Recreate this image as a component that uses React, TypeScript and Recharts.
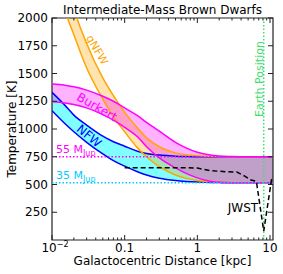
import React from 'react';
import { ComposedChart, Area, Line, XAxis, YAxis, ReferenceLine, ReferenceArea } from 'recharts';

// galactocentric radius [kpc] shared by the three halo bands
const radius = [0.01, 0.015, 0.02, 0.03, 0.05, 0.07, 0.1, 0.15, 0.2, 0.3, 0.5, 0.7, 1, 1.5, 2, 3, 5, 7, 11];

// NFW band (lower edge = 35 Mjup, upper edge = 55 Mjup)
const nfwLow = [1165, 1050, 975, 880, 775, 715, 665, 615, 585, 556, 535, 527, 522, 519, 517, 516, 515, 515, 515];
const nfwHigh = [1330, 1215, 1125, 1035, 935, 885, 845, 800, 780, 765, 755, 752, 750, 750, 750, 750, 750, 750, 750];

// Burkert band
const burkertLow = [1246, 1235, 1220, 1190, 1130, 1080, 1015, 930, 840, 740, 650, 600, 560, 530, 520, 516, 515, 515, 515];
const burkertHigh = [1405, 1395, 1380, 1350, 1295, 1250, 1190, 1120, 1060, 980, 880, 830, 790, 765, 757, 752, 750, 750, 750];

// gNFW band
const gnfwLow = [2700, 2080, 1850, 1550, 1270, 1110, 975, 830, 750, 660, 585, 555, 537, 526, 521, 517, 515, 515, 515];
const gnfwHigh = [3000, 2450, 2090, 1770, 1460, 1300, 1150, 1010, 920, 840, 785, 767, 758, 754, 752, 750, 750, 750, 750];

// JWST sensitivity curve
const jwstRadius = [0.1, 0.3, 0.6, 1.0, 1.5, 2.5, 3.5, 4.5, 5.5, 6.5, 8.2, 10.5, 11];
const jwstTemp = [650, 650, 652, 648, 625, 615, 612, 575, 540, 528, 80, 545, 548];

const mass35 = 515;
const mass55 = 750;
const earthRadius = 8.2;

const xTicks = [
  0.01, 0.02, 0.03, 0.04, 0.05, 0.06, 0.07, 0.08, 0.09,
  0.1, 0.2, 0.3, 0.4, 0.5, 0.6, 0.7, 0.8, 0.9,
  1, 2, 3, 4, 5, 6, 7, 8, 9, 10,
];
const yTicks = [250, 500, 750, 1000, 1250, 1500, 1750, 2000];

const bands = radius.map((r, i) => ({
  r,
  nfw: [nfwLow[i], nfwHigh[i]],
  burkert: [burkertLow[i], burkertHigh[i]],
  gnfw: [gnfwLow[i], gnfwHigh[i]],
  nfwLow: nfwLow[i],
  nfwHigh: nfwHigh[i],
  burkertLow: burkertLow[i],
  burkertHigh: burkertHigh[i],
  gnfwLow: gnfwLow[i],
  gnfwHigh: gnfwHigh[i],
}));
const jwst = jwstRadius.map((r, i) => ({ r, t: jwstTemp[i] }));

const W = 283;
const H = 274;
const TOP = 18;
const LEFT = 52;
const RIGHT = 10;
const BOTTOM_AXIS = 34;
const FONT = 'DejaVu Sans, sans-serif';
const INK = '#222';

const XTick = (props: any) => {
  const { x, y, payload } = props;
  const v = payload.value;
  const lg = Math.log10(v);
  const major = Math.abs(lg - Math.round(lg)) < 1e-6;
  const len = major ? 5 : 2.5;
  let label: React.ReactNode = null;
  if (major) {
    if (v === 0.01) {
      label = (
        <>
          <tspan>10</tspan>
          <tspan dy={-5} fontSize={8}>−2</tspan>
        </>
      );
    } else {
      label = String(v);
    }
  }
  return (
    <g>
      <line x1={x} x2={x} y1={y} y2={y - len} stroke={INK} />
      <line x1={x} x2={x} y1={TOP} y2={TOP + len} stroke={INK} />
      {major && (
        <text x={v === 0.01 ? x + 3 : x} y={y + 12} textAnchor="middle" fontSize={12} fill="#000" fontFamily={FONT}>
          {label}
        </text>
      )}
    </g>
  );
};

const YTick = (props: any) => {
  const { x, y, payload } = props;
  const right = W - RIGHT;
  return (
    <g>
      <line x1={x} x2={x + 5} y1={y} y2={y} stroke={INK} />
      <line x1={right} x2={right - 5} y1={y} y2={y} stroke={INK} />
      <text x={x - 4} y={y} textAnchor="end" dominantBaseline="central" fontSize={12} fill="#000" fontFamily={FONT}>
        {payload.value}
      </text>
    </g>
  );
};

export default function App() {
  return (
    <div style={{ position: 'relative', width: W, height: H, fontFamily: FONT, background: '#fff' }}>
      <style>{'body{margin:0}'}</style>
      <ComposedChart width={W} height={H} margin={{ top: TOP, right: RIGHT, left: 0, bottom: 0 }}>
        <XAxis
          dataKey="r"
          type="number"
          scale="log"
          domain={[0.01, 11]}
          allowDataOverflow
          ticks={xTicks}
          interval={0}
          tick={XTick}
          tickLine={false}
          axisLine={false}
          tickSize={0}
          tickMargin={0}
          height={BOTTOM_AXIS}
        />
        <YAxis
          type="number"
          domain={[0, 2000]}
          allowDataOverflow
          ticks={yTicks}
          interval={0}
          tick={YTick}
          tickLine={false}
          axisLine={false}
          tickSize={0}
          tickMargin={0}
          width={LEFT}
        />
        <Area data={bands} dataKey="nfw" type="monotone" fill="#00ffff" fillOpacity={0.5} stroke="none" isAnimationActive={false} dot={false} activeDot={false} />
        <Area data={bands} dataKey="gnfw" type="monotone" fill="#ffa500" fillOpacity={0.3} stroke="none" isAnimationActive={false} dot={false} activeDot={false} />
        <Area data={bands} dataKey="burkert" type="monotone" fill="#ff00ff" fillOpacity={0.3} stroke="none" isAnimationActive={false} dot={false} activeDot={false} />

        <Line data={bands} dataKey="nfwHigh" type="monotone" stroke="#0000ff" strokeWidth={1.5} dot={false} activeDot={false} isAnimationActive={false} />
        <Line data={bands} dataKey="nfwLow" type="monotone" stroke="#0000ff" strokeWidth={1.5} dot={false} activeDot={false} isAnimationActive={false} />
        <Line data={bands} dataKey="gnfwHigh" type="monotone" stroke="#ffa500" strokeWidth={1.5} dot={false} activeDot={false} isAnimationActive={false} />
        <Line data={bands} dataKey="gnfwLow" type="monotone" stroke="#ffa500" strokeWidth={1.5} dot={false} activeDot={false} isAnimationActive={false} />
        <Line data={bands} dataKey="burkertHigh" type="monotone" stroke="#ff00ff" strokeWidth={1.5} dot={false} activeDot={false} isAnimationActive={false} />
        <Line data={bands} dataKey="burkertLow" type="monotone" stroke="#ff00ff" strokeWidth={1.5} dot={false} activeDot={false} isAnimationActive={false} />

        <ReferenceLine y={mass55} stroke="#ff00ff" strokeWidth={1.5} strokeDasharray="1.5 2" />
        <ReferenceLine y={mass35} stroke="#00ccff" strokeWidth={1.5} strokeDasharray="1.5 2" />
        <ReferenceLine x={earthRadius} stroke="#40dd70" strokeWidth={1.5} strokeDasharray="1.5 2" />

        <Line data={jwst} dataKey="t" type="linear" stroke="#000" strokeWidth={1.5} strokeDasharray="5 3" dot={false} activeDot={false} isAnimationActive={false} />

        <ReferenceArea x1={0.01} x2={11} y1={0} y2={2000} fill="none" stroke={INK} strokeWidth={1.2} />
      </ComposedChart>

      <svg width={W} height={H} style={{ position: 'absolute', left: 0, top: 0, pointerEvents: 'none' }} fontFamily={FONT}>
        <text x={162.5} y={14} textAnchor="middle" fontSize={12} fill="#000">Intermediate-Mass Brown Dwarfs</text>
        <text x={162.5} y={265} textAnchor="middle" fontSize={12} fill="#000">Galactocentric Distance [kpc]</text>
        <text x={11.5} y={129} textAnchor="middle" dominantBaseline="central" fontSize={12} fill="#000" transform="rotate(-90 11.5 129)">
          Temperature [K]
        </text>

        <text x={97} y={50} textAnchor="middle" dominantBaseline="central" fontSize={11} fill="#ffa500" transform="rotate(60 97 50)">gNFW</text>
        <text x={97} y={107} textAnchor="middle" dominantBaseline="central" fontSize={12} fill="#ff00ff" transform="rotate(30 97 107)">Burkert</text>
        <text x={89} y={136} textAnchor="middle" dominantBaseline="central" fontSize={12} fill="#0000ff" transform="rotate(40 89 136)">NFW</text>

        <text x={56} y={153} fontSize={11} fill="#ff00ff">
          55 M<tspan fontSize={8} dy={3}>Jup</tspan>
        </text>
        <text x={56} y={179} fontSize={11} fill="#00ccff">
          35 M<tspan fontSize={8} dy={3}>Jup</tspan>
        </text>
        <text x={243} y={212} textAnchor="middle" fontSize={12} fill="#000">JWST</text>
        <text x={259} y={79} textAnchor="middle" dominantBaseline="central" fontSize={11} fill="#40dd70" transform="rotate(-90 259 79)">
          Earth Position
        </text>
      </svg>
    </div>
  );
}
